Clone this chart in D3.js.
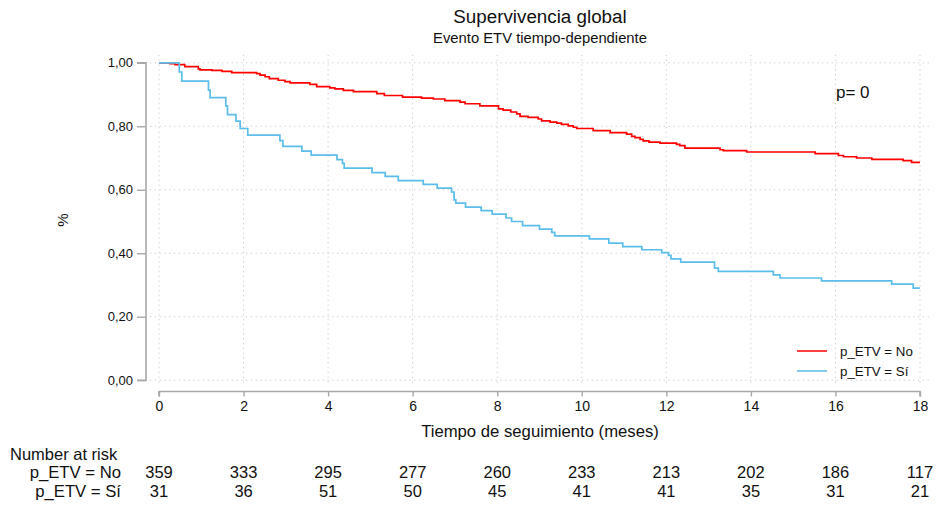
<!DOCTYPE html>
<html>
<head>
<meta charset="utf-8">
<script src="https://cdn.jsdelivr.net/npm/d3@7"></script>
<style>
  html, body { margin: 0; padding: 0; background: #fff; }
  svg text { font-family: Arial, "Liberation Sans", sans-serif; fill: #111; }
</style>
</head>
<body>
<svg id="chart" width="936" height="509"></svg>
<script>
// Kaplan–Meier estimates: time (months) and survival at each step
const noTimes = [0, 0.26, 0.38, 0.61, 0.93, 0.97, 1.25, 1.49, 1.72, 2.31, 2.39, 2.51, 2.61, 2.82, 2.98, 3.10,
  3.57, 3.73, 4.04, 4.16, 4.36, 4.60, 5.15, 5.33, 5.76, 6.21, 6.49, 6.76, 7.12, 7.24, 7.59, 8.03, 8.14,
  8.32, 8.46, 8.54, 8.73, 8.97, 9.05, 9.25, 9.41, 9.52, 9.68, 9.80, 9.88, 10.27, 10.67, 11.06, 11.18,
  11.26, 11.38, 11.45, 11.59, 11.85, 12.24, 12.32, 12.44, 13.27, 13.35, 13.90, 15.52, 16.07, 16.19,
  16.50, 16.86, 17.60, 17.80, 18.0];
const noSurv = [1.000, 0.997, 0.994, 0.988, 0.981, 0.978, 0.976, 0.973, 0.969, 0.966, 0.961, 0.956, 0.950,
  0.945, 0.941, 0.937, 0.932, 0.925, 0.921, 0.918, 0.913, 0.909, 0.903, 0.897, 0.892, 0.889, 0.886, 0.881,
  0.876, 0.871, 0.864, 0.855, 0.851, 0.845, 0.839, 0.831, 0.828, 0.823, 0.817, 0.813, 0.810, 0.806, 0.801,
  0.797, 0.793, 0.786, 0.780, 0.775, 0.768, 0.764, 0.759, 0.754, 0.750, 0.747, 0.743, 0.739, 0.731, 0.726,
  0.723, 0.719, 0.714, 0.708, 0.704, 0.700, 0.696, 0.692, 0.686, 0.686];

const siTimes = [0, 0.48, 0.54, 1.17, 1.21, 1.58, 1.62, 1.82, 1.92, 2.10, 2.86, 2.93, 3.38, 3.60, 4.21, 4.34,
  4.38, 5.04, 5.35, 5.66, 6.25, 6.58, 6.92, 6.98, 7.02, 7.25, 7.62, 7.88, 8.21, 8.34, 8.60, 9.00, 9.29,
  9.36, 10.18, 10.64, 10.97, 11.42, 11.89, 12.05, 12.11, 12.34, 13.14, 13.23, 14.53, 14.69, 15.67, 17.33,
  17.84, 18.0];
const siSurv = [1.000, 0.971, 0.942, 0.914, 0.890, 0.864, 0.837, 0.816, 0.793, 0.772, 0.755, 0.737, 0.722,
  0.709, 0.695, 0.683, 0.668, 0.654, 0.642, 0.629, 0.617, 0.605, 0.593, 0.568, 0.558, 0.545, 0.534, 0.523,
  0.511, 0.500, 0.487, 0.476, 0.466, 0.455, 0.445, 0.432, 0.421, 0.411, 0.402, 0.393, 0.382, 0.372, 0.353,
  0.343, 0.332, 0.322, 0.313, 0.303, 0.290, 0.290];

// Axis ticks
const xTicks = [0, 2, 4, 6, 8, 10, 12, 14, 16, 18];
const yTicks = [0, 0.2, 0.4, 0.6, 0.8, 1.0];

// Number at risk at each x tick
const groupLabels = ["p_ETV = No", "p_ETV = Sí"];
const riskNo = [359, 333, 295, 277, 260, 233, 213, 202, 186, 117];
const riskSi = [31, 36, 51, 50, 45, 41, 41, 35, 31, 21];

const colors = ["#ff0000", "#5bbde9"];

const svg = d3.select("#chart");
const x = d3.scaleLinear().domain([0, 18]).range([159, 920]);
const y = d3.scaleLinear().domain([0, 1]).range([380.2, 62.8]);
const fmt = v => d3.format(".2f")(v).replace(".", ",");

// Dotted grid
const grid = svg.append("g").attr("stroke", "#c9c9c9").attr("stroke-width", 1)
  .attr("stroke-dasharray", "1.2,3.6");
grid.selectAll("line.h").data(yTicks).join("line").attr("class", "h")
  .attr("x1", 150).attr("x2", 929).attr("y1", d => y(d)).attr("y2", d => y(d));
grid.selectAll("line.v").data(xTicks).join("line").attr("class", "v")
  .attr("x1", d => x(d)).attr("x2", d => x(d)).attr("y1", 55).attr("y2", 386);

// Y axis (offset to the left)
const yAxis = svg.append("g").attr("transform", "translate(146,0)")
  .call(d3.axisLeft(y).tickValues(yTicks).tickFormat(fmt).tickSize(9).tickPadding(4));
// X axis (offset below)
const xAxis = svg.append("g").attr("transform", "translate(0,391.5)")
  .call(d3.axisBottom(x).tickValues(xTicks).tickFormat(d3.format("d")).tickSize(5).tickPadding(5));
[yAxis, xAxis].forEach(g => {
  g.select(".domain").attr("stroke", "#a8a8a8").attr("stroke-width", 1.6);
  g.selectAll(".tick line").attr("stroke", "#a8a8a8").attr("stroke-width", 1.4);
  g.selectAll("text").attr("fill", "#111").attr("font-family", "Arial, 'Liberation Sans', sans-serif");
});
yAxis.select(".domain").attr("d", `M-9,${y(0)}H0V${y(1)}H-9`);
yAxis.selectAll("text").attr("font-size", 13);
xAxis.select(".domain").attr("d", `M${x(0)},5V0H${x(18)}V5`);
xAxis.selectAll("text").attr("font-size", 14);

// Survival curves
const line = d3.line().curve(d3.curveStepAfter).x(d => x(d[0])).y(d => y(d[1]));
const series = [d3.zip(noTimes, noSurv), d3.zip(siTimes, siSurv)];
svg.append("g").selectAll("path").data(series).join("path")
  .attr("d", line).attr("fill", "none")
  .attr("stroke", (d, i) => colors[i]).attr("stroke-width", 1.7);

// Titles
svg.append("text").attr("x", 540).attr("y", 23).attr("text-anchor", "middle")
  .attr("font-size", 18.8).text("Supervivencia global");
svg.append("text").attr("x", 540).attr("y", 43).attr("text-anchor", "middle")
  .attr("font-size", 14.8).text("Evento ETV tiempo-dependiente");
svg.append("text").attr("transform", "translate(68,220) rotate(-90)").attr("text-anchor", "middle")
  .attr("font-size", 15).text("%");
svg.append("text").attr("x", 540).attr("y", 437).attr("text-anchor", "middle")
  .attr("font-size", 16.7).text("Tiempo de seguimiento (meses)");
svg.append("text").attr("x", 836).attr("y", 98).attr("font-size", 17).text("p= 0");

// Legend
const legend = svg.append("g").selectAll("g").data(groupLabels).join("g")
  .attr("transform", (d, i) => `translate(797,${351 + i * 20})`);
legend.append("line").attr("x1", 0).attr("x2", 30)
  .attr("stroke", (d, i) => colors[i]).attr("stroke-width", 1.5);
legend.append("text").attr("x", 43).attr("y", 5).attr("font-size", 13.3).text(d => d);

// Number at risk table
svg.append("text").attr("x", 10).attr("y", 460).attr("font-size", 16.5).text("Number at risk");
const rows = [riskNo, riskSi];
rows.forEach((vals, r) => {
  const yy = 478 + r * 19;
  svg.append("text").attr("x", 121).attr("y", yy).attr("text-anchor", "end")
    .attr("font-size", 16.7).text(groupLabels[r]);
  svg.append("g").selectAll("text").data(vals).join("text")
    .attr("x", (d, i) => x(xTicks[i])).attr("y", yy).attr("text-anchor", "middle")
    .attr("font-size", 16.5).text(d => d);
});
</script>
</body>
</html>
